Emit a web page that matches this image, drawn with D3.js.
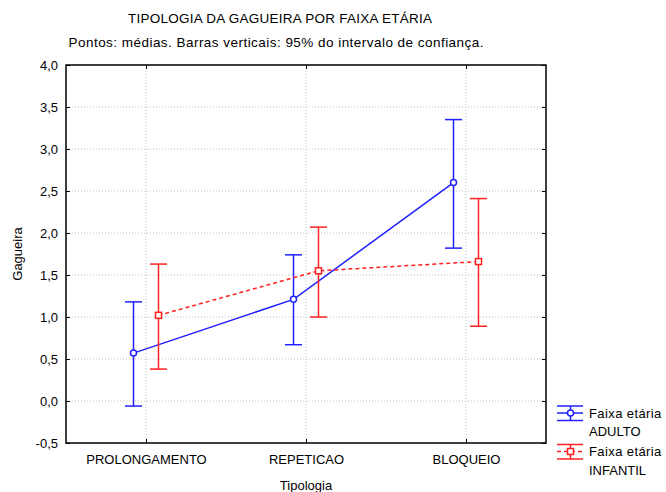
<!DOCTYPE html>
<html>
<head>
<meta charset="utf-8">
<script src="https://cdn.jsdelivr.net/npm/d3@7"></script>
<style>
  body { margin: 0; background: #fff; }
  text { font-family: "Liberation Sans", Arial, sans-serif; fill: #000; }
</style>
</head>
<body>
<script>
// categories on the x axis
const categories = ['PROLONGAMENTO', 'REPETICAO', 'BLOQUEIO'];
// series names
const groups = ['ADULTO', 'INFANTIL'];
// means and 95% confidence limits
const adultoMean = [0.57, 1.21, 2.60];
const adultoLower = [-0.06, 0.67, 1.82];
const adultoUpper = [1.18, 1.74, 3.35];
const infantilMean = [1.02, 1.55, 1.66];
const infantilLower = [0.38, 1.00, 0.89];
const infantilUpper = [1.63, 2.07, 2.41];
// y tick values
const yTicks = [-0.5, 0, 0.5, 1, 1.5, 2, 2.5, 3, 3.5, 4];

const width = 666;
const height = 492;
const margin = {top: 65, right: 120, bottom: 49, left: 66};

const svg = d3.select('body')
  .append('svg')
  .attr('width', width)
  .attr('height', height);

const x = d3.scalePoint()
  .domain(categories)
  .range([margin.left, width - margin.right])
  .padding(0.5);

const y = d3.scaleLinear()
  .domain([-0.5, 4])
  .range([height - margin.bottom, margin.top]);

// small shift so the two series don't overlap
const shift = d3.scalePoint()
  .domain(groups)
  .range([-12.5, 12.5]);

const fmt = d => d.toFixed(1).replace('.', ',');

// gridlines
svg.append('g')
  .selectAll('line')
  .data(yTicks.filter(d => d > -0.5 && d < 4))
  .join('line')
  .attr('x1', margin.left)
  .attr('x2', width - margin.right)
  .attr('y1', d => y(d))
  .attr('y2', d => y(d))
  .attr('stroke', '#c4c4c4')
  .attr('stroke-dasharray', '1,2');

svg.append('g')
  .selectAll('line')
  .data(categories)
  .join('line')
  .attr('x1', d => x(d))
  .attr('x2', d => x(d))
  .attr('y1', margin.top)
  .attr('y2', height - margin.bottom)
  .attr('stroke', '#c4c4c4')
  .attr('stroke-dasharray', '1,2');

// axes with inward ticks
const yAxis = d3.axisLeft(y).tickValues(yTicks).tickFormat(fmt).tickSize(-4).tickPadding(8);
const xAxis = d3.axisBottom(x).tickSize(-4).tickPadding(12);

svg.append('g')
  .attr('transform', `translate(${margin.left},0)`)
  .call(yAxis)
  .call(g => g.select('.domain').remove())
  .selectAll('text')
  .style('font-size', '13px');

svg.append('g')
  .attr('transform', `translate(${width - margin.right},0)`)
  .call(d3.axisRight(y).tickValues(yTicks).tickFormat('').tickSize(-4))
  .call(g => g.select('.domain').remove());

svg.append('g')
  .attr('transform', `translate(0,${height - margin.bottom})`)
  .call(xAxis)
  .call(g => g.select('.domain').remove())
  .selectAll('text')
  .style('font-size', '13px');

svg.append('g')
  .attr('transform', `translate(0,${margin.top})`)
  .call(d3.axisTop(x).tickFormat('').tickSize(-4))
  .call(g => g.select('.domain').remove());

// frame
svg.append('rect')
  .attr('x', margin.left)
  .attr('y', margin.top)
  .attr('width', width - margin.left - margin.right)
  .attr('height', height - margin.top - margin.bottom)
  .attr('fill', 'none')
  .attr('stroke', '#000')
  .attr('stroke-width', 1.5);

// series
const series = [
  {name: 'ADULTO', mean: adultoMean, lower: adultoLower, upper: adultoUpper, color: '#2020ff', dash: null, marker: 'circle'},
  {name: 'INFANTIL', mean: infantilMean, lower: infantilLower, upper: infantilUpper, color: '#ff2020', dash: '4,3', marker: 'square'}
];

const cap = 8.5;

series.forEach(s => {
  const pts = categories.map((c, i) => ({
    x: x(c) + shift(s.name),
    m: s.mean[i], lo: s.lower[i], hi: s.upper[i]
  }));
  const g = svg.append('g');

  g.append('path')
    .datum(pts)
    .attr('fill', 'none')
    .attr('stroke', s.color)
    .attr('stroke-width', 1.5)
    .attr('stroke-dasharray', s.dash)
    .attr('d', d3.line().x(d => d.x).y(d => y(d.m)));

  // error bars
  g.selectAll('.bar')
    .data(pts)
    .join('line')
    .attr('x1', d => d.x).attr('x2', d => d.x)
    .attr('y1', d => y(d.lo)).attr('y2', d => y(d.hi))
    .attr('stroke', s.color).attr('stroke-width', 1.5);

  ['lo', 'hi'].forEach(k => {
    g.selectAll('.cap-' + k)
      .data(pts)
      .join('line')
      .attr('x1', d => d.x - cap).attr('x2', d => d.x + cap)
      .attr('y1', d => y(d[k])).attr('y2', d => y(d[k]))
      .attr('stroke', s.color).attr('stroke-width', 1.5);
  });

  if (s.marker == 'circle') {
    g.selectAll('circle')
      .data(pts)
      .join('circle')
      .attr('cx', d => d.x).attr('cy', d => y(d.m))
      .attr('r', 3)
      .attr('fill', '#fff').attr('stroke', s.color).attr('stroke-width', 1.5);
  } else {
    g.selectAll('rect')
      .data(pts)
      .join('rect')
      .attr('x', d => d.x - 3).attr('y', d => y(d.m) - 3)
      .attr('width', 6).attr('height', 6)
      .attr('fill', '#fff').attr('stroke', s.color).attr('stroke-width', 1.5);
  }
});

// legend
const legend = svg.append('g').attr('transform', 'translate(557,413)');
series.forEach((s, i) => {
  const lg = legend.append('g').attr('transform', `translate(0,${i * 38.5})`);
  lg.append('line').attr('x1', 0).attr('x2', 26).attr('y1', 0).attr('y2', 0)
    .attr('stroke', s.color).attr('stroke-width', 1.5).attr('stroke-dasharray', s.dash);
  lg.append('line').attr('x1', 0).attr('x2', 26).attr('y1', -7).attr('y2', -7)
    .attr('stroke', s.color).attr('stroke-width', 1.5);
  lg.append('line').attr('x1', 0).attr('x2', 26).attr('y1', 7.5).attr('y2', 7.5)
    .attr('stroke', s.color).attr('stroke-width', 1.5);
  lg.append('line').attr('x1', 13.5).attr('x2', 13.5).attr('y1', -7).attr('y2', 7.5)
    .attr('stroke', s.color).attr('stroke-width', 1.5);
  if (s.marker == 'circle') {
    lg.append('circle').attr('cx', 13.5).attr('cy', 0).attr('r', 3)
      .attr('fill', '#fff').attr('stroke', s.color).attr('stroke-width', 1.5);
  } else {
    lg.append('rect').attr('x', 10.5).attr('y', -3).attr('width', 6).attr('height', 6)
      .attr('fill', '#fff').attr('stroke', s.color).attr('stroke-width', 1.5);
  }
  lg.append('text').attr('x', 32).attr('y', 4.5).style('font-size', '13px')
    .style('letter-spacing', '0.4px').text('Faixa etária');
  lg.append('text').attr('x', 32).attr('y', 23).style('font-size', '13px').text(s.name);
});

// titles
svg.append('text')
  .attr('x', 280).attr('y', 23)
  .attr('text-anchor', 'middle')
  .attr('textLength', 304)
  .style('font-size', '13.5px')
  .text('TIPOLOGIA DA GAGUEIRA POR FAIXA ETÁRIA');

svg.append('text')
  .attr('x', 276).attr('y', 47)
  .attr('text-anchor', 'middle')
  .attr('textLength', 415)
  .style('font-size', '13.5px')
  .text('Pontos: médias. Barras verticais: 95% do intervalo de confiança.');

svg.append('text')
  .attr('x', x('REPETICAO')).attr('y', 490)
  .attr('text-anchor', 'middle')
  .style('font-size', '13px')
  .text('Tipologia');

svg.append('text')
  .attr('transform', `translate(22,${(margin.top + height - margin.bottom) / 2}) rotate(-90)`)
  .attr('text-anchor', 'middle')
  .style('font-size', '13px')
  .text('Gagueira');
</script>
</body>
</html>
